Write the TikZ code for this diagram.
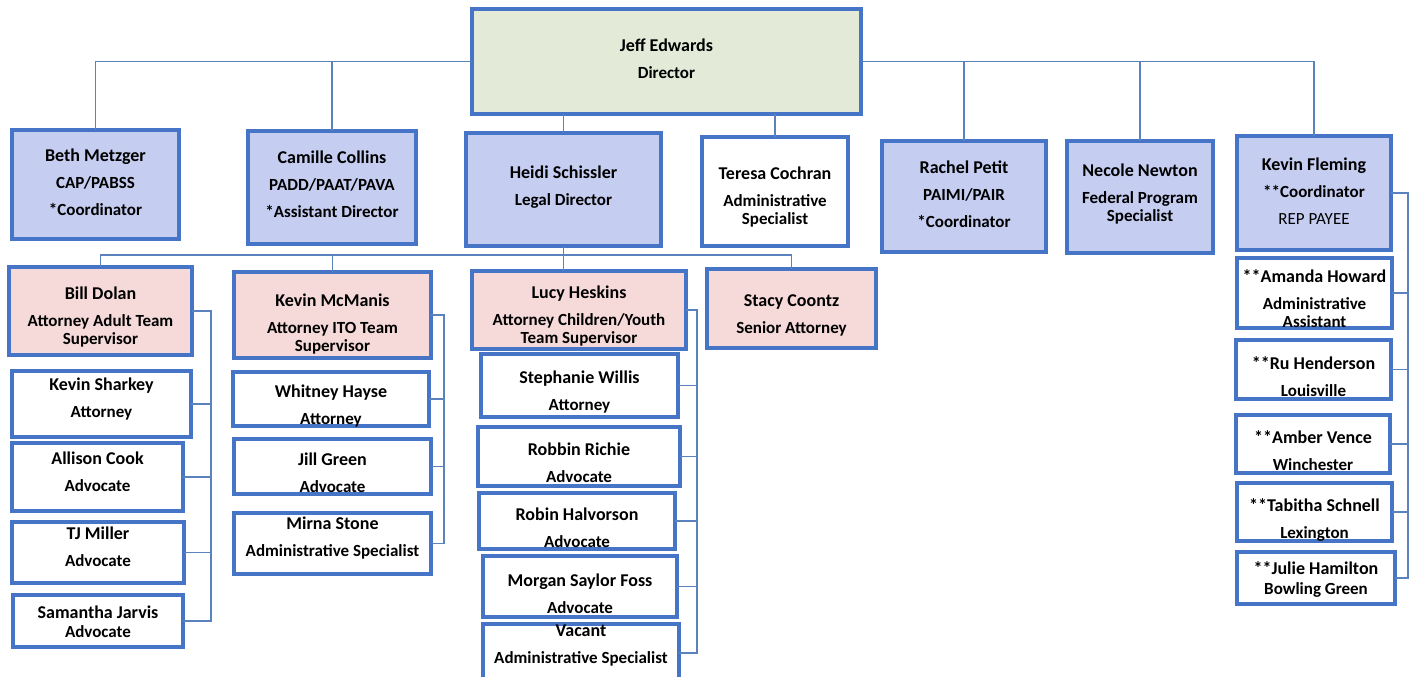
\documentclass[tikz,border=0pt]{standalone}
\usepackage{fontspec}
\setmainfont{Carlito}
\definecolor{bord}{HTML}{4674C6}
\definecolor{connc}{HTML}{5A82BC}
\definecolor{fblue}{HTML}{C5CDF1}
\definecolor{fpink}{HTML}{F6DADA}
\definecolor{fgreen}{HTML}{E3EBD8}
\newcommand\orgbox[8]{%
  \node[#1, minimum width={(#5-#3)*1pt}, minimum height={(#6-#4)*1pt}] (#2) at ({(#3+#5)/2},{(#4+#6)/2}) {};
  \node[txt] (#2-t) at ({(#3+#5)/2},#7) {#8};}
\newcommand\gp{\\[9pt]}
\newcommand\nm[1]{{\fontsize{18}{18}\selectfont #1}}
\begin{document}
\begin{tikzpicture}[x=1pt,y=-1pt,
  box/.style={draw=bord, line width=3.4pt, inner sep=0pt, outer sep=0pt, rectangle},
  bluebox/.style={box, fill=fblue},
  pinkbox/.style={box, fill=fpink},
  greenbox/.style={box, fill=fgreen},
  whitebox/.style={box, fill=white},
  txt/.style={font=\bfseries\fontsize{17}{18}\selectfont, align=center, inner sep=0pt, text=black},
  conn/.style={draw=connc, line width=1.4pt}]
\useasboundingbox (0,0) rectangle (1413,677);
\clip (0,0) rectangle (1413,677);
\fill[white] (0,0) rectangle (1413,677);

% top
\orgbox{greenbox}{jeff}{472}{9}{861}{114}{58.5}{\nm{Jeff Edwards}\gp Director}
\orgbox{bluebox}{beth}{12}{130}{179}{239}{182.5}{\nm{Beth Metzger}\gp CAP/PABSS\gp *Coordinator}
\orgbox{bluebox}{camille}{248}{131}{416}{244}{184.5}{\nm{Camille Collins}\gp PADD/PAAT/PAVA\gp *Assistant Director}
\orgbox{bluebox}{heidi}{466}{133}{661}{246}{187}{\nm{Heidi Schissler}\gp Legal Director}
\orgbox{whitebox}{teresa}{702}{137}{848}{246}{197}{\nm{Teresa Cochran}\gp Administrative\\Specialist}
\orgbox{bluebox}{rachel}{882}{141}{1046}{252}{194}{\nm{Rachel Petit}\gp PAIMI/PAIR\gp *Coordinator}
\orgbox{bluebox}{necole}{1067}{141}{1213}{253}{194.5}{\nm{Necole Newton}\gp Federal Program\\Specialist}
\orgbox{bluebox}{kevf}{1237}{136}{1391}{250}{191}{\nm{Kevin Fleming}\gp **Coordinator\gp \mdseries REP PAYEE}

% second tier
\orgbox{pinkbox}{bill}{9}{267}{192}{355}{317}{\nm{Bill Dolan}\gp Attorney Adult Team\\Supervisor}
\orgbox{pinkbox}{mcmanis}{234}{272}{431}{358}{324}{\nm{Kevin McManis}\gp Attorney ITO Team\\Supervisor}
\orgbox{pinkbox}{lucy}{472}{271}{686}{349}{316}{\nm{Lucy Heskins}\gp Attorney Children/Youth\\Team Supervisor}
\orgbox{pinkbox}{stacy}{707}{269}{876}{348}{315.5}{\nm{Stacy Coontz}\gp Senior Attorney}

% Bill's team
\orgbox{whitebox}{sharkey}{12}{371}{191}{437}{399.5}{\nm{Kevin Sharkey}\gp Attorney}
\orgbox{whitebox}{allison}{12}{443}{183}{511}{471.5}{\nm{Allison Cook}\gp Advocate}
\orgbox{whitebox}{tj}{12}{522}{184}{583}{546.5}{\nm{TJ Miller}\gp Advocate}
\orgbox{whitebox}{samantha}{13}{595}{183}{647}{621.5}{\nm{Samantha Jarvis}\\[1pt]Advocate}

% McManis's team
\orgbox{whitebox}{whitney}{233}{372}{429}{426}{406.5}{\nm{Whitney Hayse}\gp Attorney}
\orgbox{whitebox}{jill}{234}{439}{431}{494}{473}{\nm{Jill Green}\gp Advocate}
\orgbox{whitebox}{mirna}{234}{513}{431}{574}{538.5}{\nm{Mirna Stone}\gp Administrative Specialist}

% Lucy's team
\orgbox{whitebox}{stephanie}{481}{354}{678}{417}{392.5}{\nm{Stephanie Willis}\gp Attorney}
\orgbox{whitebox}{robbin}{478}{427}{680}{486}{462.5}{\nm{Robbin Richie}\gp Advocate}
\orgbox{whitebox}{robinh}{479}{493}{675}{549}{527.5}{\nm{Robin Halvorson}\gp Advocate}
\orgbox{whitebox}{morgan}{483}{556}{677}{617}{593.5}{\nm{Morgan Saylor Foss}\gp Advocate}
\orgbox{whitebox}{vacant}{483}{624}{679}{682}{645}{\nm{Vacant}\gp Administrative Specialist}

% Kevin Fleming's team
\orgbox{whitebox}{amanda}{1237}{258}{1392}{328}{299}{\nm{**Amanda Howard}\gp Administrative\\Assistant}
\orgbox{whitebox}{ru}{1236}{340}{1391}{399}{376.5}{\nm{**Ru Henderson}\gp Louisville}
\orgbox{whitebox}{amber}{1236}{415}{1390}{473}{450.5}{\nm{**Amber Vence}\gp Winchester}
\orgbox{whitebox}{tabitha}{1237}{483}{1392}{541}{519.5}{\nm{**Tabitha Schnell}\gp Lexington}
\orgbox{whitebox}{julie}{1237}{552}{1395}{604}{579}{\nm{**Julie Hamilton}\\[2pt]Bowling Green}

% connectors from director
\draw[conn] (jeff.west) -| (beth.north);
\draw[conn] (camille.north) -- (camille.north |- jeff.west);
\draw[conn] (jeff.east) -| (kevf.north);
\draw[conn] (rachel.north) -- (rachel.north |- jeff.east);
\draw[conn] (necole.north) -- (necole.north |- jeff.east);
\draw[conn] (heidi.north) -- (heidi.north |- jeff.south);
\draw[conn] (teresa.north) -- (teresa.north |- jeff.south);

% legal bus
\coordinate (bus) at (0,255);
\draw[conn] (bill.north) -- (bill.north |- bus) -- (stacy.north |- bus) -- (stacy.north);
\draw[conn] (mcmanis.north) -- (mcmanis.north |- bus);
\draw[conn] (heidi.south) -- (heidi.south |- lucy.north);

% brackets
\coordinate (bxa) at (211,0);
\draw[conn] (bill.east) -- (bill.east -| bxa) -- (bxa |- samantha.east) -- (samantha.east);
\foreach \n in {sharkey,allison,tj} \draw[conn] (\n.east) -- (\n.east -| bxa);

\coordinate (bxb) at (444,0);
\draw[conn] (mcmanis.east) -- (mcmanis.east -| bxb) -- (bxb |- mirna.east) -- (mirna.east);
\foreach \n in {whitney,jill} \draw[conn] (\n.east) -- (\n.east -| bxb);

\coordinate (bxc) at (697,0);
\draw[conn] (lucy.east) -- (lucy.east -| bxc) -- (bxc |- vacant.east) -- (vacant.east);
\foreach \n in {stephanie,robbin,robinh,morgan} \draw[conn] (\n.east) -- (\n.east -| bxc);

\coordinate (bxd) at (1408,0);
\draw[conn] (kevf.east) -- (kevf.east -| bxd) -- (bxd |- julie.east) -- (julie.east);
\foreach \n in {amanda,ru,amber,tabitha} \draw[conn] (\n.east) -- (\n.east -| bxd);
\end{tikzpicture}
\end{document}
